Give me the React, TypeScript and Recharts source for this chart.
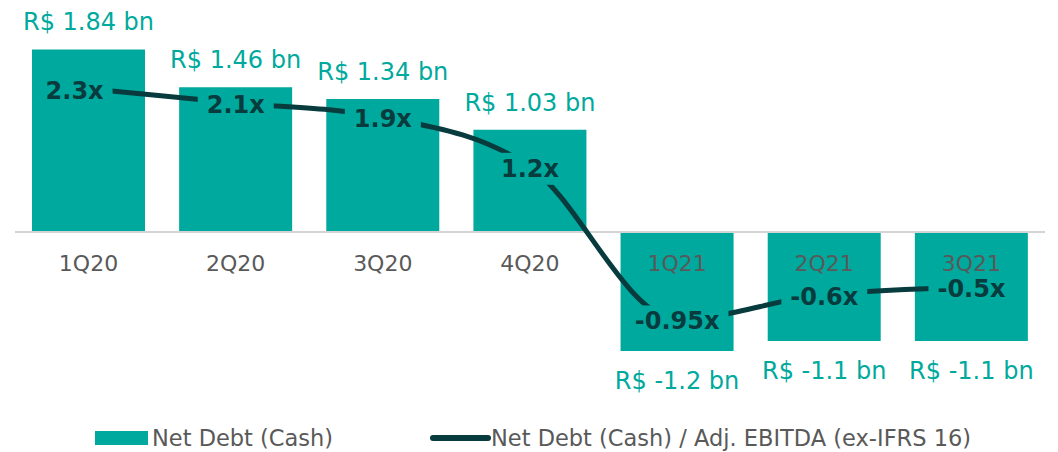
import { ComposedChart, Bar, Line, XAxis, YAxis, ReferenceLine, LabelList } from "recharts";

const quarters = ["1Q20", "2Q20", "3Q20", "4Q20", "1Q21", "2Q21", "3Q21"];
const netDebt = [1.84, 1.46, 1.34, 1.03, -1.2, -1.1, -1.1];
const leverage = [2.3, 2.1, 1.9, 1.2, -0.95, -0.6, -0.5];

const data = quarters.map((q, i) => ({ q, debt: netDebt[i], lev: leverage[i] }));

const TEAL = "#00a99d";
const DARK = "#073b3d";
const GRAY = "#595959";
const FONT = "'DejaVu Sans', sans-serif";

let ctx: CanvasRenderingContext2D | null = null;
function textWidth(s: string, font: string) {
    if (!ctx) ctx = document.createElement("canvas").getContext("2d");
    if (!ctx) return s.length * 14;
    ctx.font = font;
    return ctx.measureText(s).width;
}

function barEdges(props: any) {
    const y = Number(props.y), h = Number(props.height);
    return { top: Math.min(y, y + h), bot: Math.max(y, y + h) };
}

const ValueLabel = (props: any) => {
    const { x, width, value } = props;
    const { top, bot } = barEdges(props);
    const cy = value >= 0 ? top - 27 : bot + 30;
    return (
        <text x={x + width / 2} y={cy} textAnchor="middle" dominantBaseline="central"
            fill={TEAL} fontSize={24} fontFamily={FONT}>
            {`R$ ${value} bn`}
        </text>
    );
};

const CategoryLabel = (props: any) => {
    const { x, width, value, index } = props;
    const { top, bot } = barEdges(props);
    const zero = netDebt[index] >= 0 ? bot : top;
    return (
        <text x={x + width / 2} y={zero + 32} textAnchor="middle" dominantBaseline="central"
            fill={GRAY} fontSize={22} fontFamily={FONT}>
            {value}
        </text>
    );
};

const LevLabel = (props: any) => {
    const { x, y, value, index } = props;
    const s = `${value}x`;
    const font = `bold 24px ${FONT}`;
    const w = textWidth(s, font);
    // first label sits a little left of its point in the original
    const cx = index === 0 ? x - 14 : x;
    const cy = y + 2;
    return (
        <g>
            <rect x={cx - w / 2 - 9} y={cy - 16} width={w + 18} height={32} fill={TEAL} />
            <text x={cx} y={cy} textAnchor="middle" dominantBaseline="central"
                fill={DARK} fontSize={24} fontWeight="bold" fontFamily={FONT}>
                {s}
            </text>
        </g>
    );
};

export default function App() {
    return (
        <div style={{ position: "relative", width: 1050, height: 444 }}>
            <ComposedChart width={1050} height={420} data={data}
                margin={{ top: 12, right: 13, left: 7, bottom: 38 }}>
                <XAxis dataKey="q" hide />
                <YAxis yAxisId="left" hide domain={[-1.593, 2.137]} allowDataOverflow />
                <YAxis yAxisId="right" hide domain={[-1.944, 3.268]} allowDataOverflow />
                <ReferenceLine yAxisId="left" y={0} stroke="#d4d4d4" strokeWidth={2} />
                <Bar yAxisId="left" dataKey="debt" fill={TEAL} barSize={113} isAnimationActive={false}>
                    <LabelList dataKey="debt" content={ValueLabel} />
                    <LabelList dataKey="q" content={CategoryLabel} />
                </Bar>
                <Line yAxisId="right" type="monotone" dataKey="lev" stroke={DARK} strokeWidth={5}
                    dot={false} activeDot={false} isAnimationActive={false}>
                    <LabelList dataKey="lev" content={LevLabel} />
                </Line>
            </ComposedChart>
            <svg width={1050} height={30} style={{ position: "absolute", left: 0, top: 415 }}>
                <rect x={87} y={8} width={53} height={14} fill={TEAL} />
                <text x={144} y={15} dominantBaseline="central" fill={GRAY} fontSize={22.5} fontFamily={FONT}>
                    Net Debt (Cash)
                </text>
                <line x1={425} y1={15} x2={480} y2={15} stroke={DARK} strokeWidth={6} strokeLinecap="round" />
                <text x={483} y={15} dominantBaseline="central" fill={GRAY} fontSize={22.5} fontFamily={FONT}>
                    Net Debt (Cash) / Adj. EBITDA (ex-IFRS 16)
                </text>
            </svg>
        </div>
    );
}
